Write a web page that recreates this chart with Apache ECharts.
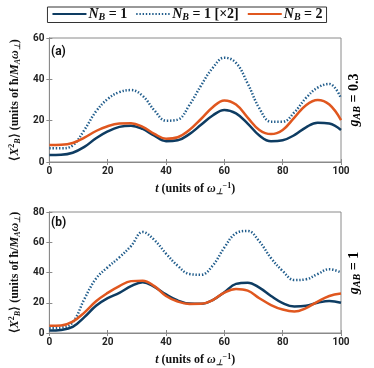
<!DOCTYPE html>
<html>
<head>
<meta charset="utf-8">
<script src="https://cdn.jsdelivr.net/npm/echarts@6/dist/echarts.min.js"></script>
<style>
  html, body { margin: 0; padding: 0; background: #fff; }
  #chart { width: 374px; height: 368px; }
</style>
</head>
<body>
<div id="chart"></div>
<script>
// time samples (units of 1/omega)
var tValues = [0, 4, 8, 12, 16, 20, 24, 28, 32, 36, 40, 44, 48, 52, 56, 60, 64, 68, 72, 76, 80, 84, 88, 92, 96, 100]

// panel (a), g_AB = 0.3
var aNB1 = [3.4, 3.5, 4.5, 7.3, 11.5, 14.8, 17, 17.6, 16, 12.7, 10.1, 10.5, 13.5, 18, 22.5, 25.2, 23.5, 18.6, 12.8, 10, 10.5, 13, 16.8, 19, 18.6, 15.5]
var aNB1x2 = [6.6, 6.6, 8, 15.5, 24.5, 30.5, 33.8, 34.8, 32, 25, 20, 20.5, 27.5, 37, 45.5, 50.5, 48, 38, 26, 19.5, 19.5, 24, 31, 36, 37.8, 30.8]
var aNB2 = [8.2, 8.3, 9.2, 11.8, 15, 17.3, 18.6, 18.8, 17, 13.6, 11.3, 12, 15.5, 20.8, 26.5, 29.8, 27.8, 21.5, 15.5, 13.5, 15.5, 21.5, 27.5, 30, 27.8, 20.3]

// panel (b), g_AB = 1
var bNB1 = [1.6, 2, 4, 10.5, 18, 23, 26.5, 31, 33.6, 30.5, 25.5, 21.5, 19.5, 19.3, 21.8, 27, 32.5, 33.3, 30, 24.5, 19.8, 17.5, 18, 20, 21.2, 20]
var bNB1x2 = [3.1, 3.5, 7, 22.5, 36, 43.5, 50, 57.5, 66.8, 61.5, 52.5, 44.5, 39, 38.5, 44.5, 56.5, 66, 67.5, 60.5, 49.5, 41, 35, 35.5, 39, 42.2, 40]
var bNB2 = [4.8, 5, 7.5, 13.5, 21, 26.5, 31, 34.3, 34.6, 31, 24.5, 20.8, 19.2, 19.3, 21.8, 26.7, 29.1, 28, 23, 18.5, 15.5, 14.2, 16.5, 20.8, 24.5, 26.1]

var aYMax = 60
var bYMax = 80

var cDark = '#0e3c62'
var cDot = '#215d8c'
var cOrange = '#e0571f'
var frame = '#8a8a8a'
var serif = 'Liberation Serif'

function pairs(ys) {
  return tValues.map(function (t, i) { return [t, ys[i]] })
}

function richSet(size) {
  var sub = Math.round(size * 0.68)
  return {
    i: { fontFamily: serif, fontStyle: 'italic', fontWeight: 'bold', fontSize: size, color: '#111' },
    n: { fontFamily: serif, fontWeight: 'bold', fontSize: size, color: '#111' },
    s: { fontFamily: serif, fontStyle: 'italic', fontWeight: 'bold', fontSize: sub, color: '#111', padding: [size / 2, 0, 0, 0] },
    p: { fontFamily: serif, fontWeight: 'bold', fontSize: sub, color: '#111', padding: [0, 0, size / 2, 0] }
  }
}
var mathRich = richSet(12)
var legendRich = richSet(14)
var sideRich = richSet(14)

var xName = '{i|t}{n| (units of }{i|ω}{s|⊥}{p|−1}{n|)}'
var yName = '{n|⟨}{i|X}{p|2}{s|B}{n|⟩ (units of ħ/}{i|M}{s|A}{i|ω}{s|⊥}{n|)}'

function mainX(gi) {
  return {
    gridIndex: gi, type: 'value', min: 0, max: 100, interval: 20,
    name: xName, nameLocation: 'middle', nameGap: 20,
    nameTextStyle: { rich: mathRich },
    axisLine: { lineStyle: { color: frame } },
    axisTick: { inside: true, length: 3, lineStyle: { color: frame } },
    axisLabel: { fontFamily: 'Roboto', fontWeight: 'bold', fontSize: 10, color: '#222', margin: 4 },
    splitLine: { show: false }
  }
}
function topX(gi) {
  return {
    gridIndex: gi, type: 'value', min: 0, max: 100, interval: 20, position: 'top',
    axisLine: { lineStyle: { color: frame } },
    axisTick: { inside: true, length: 3, lineStyle: { color: frame } },
    axisLabel: { show: false }, splitLine: { show: false }
  }
}
function mainY(gi, max) {
  return {
    gridIndex: gi, type: 'value', min: 0, max: max, interval: 20,
    name: yName, nameLocation: 'middle', nameGap: 22, nameRotate: 90,
    nameTextStyle: { rich: mathRich },
    axisLine: { show: true, lineStyle: { color: frame } },
    axisTick: { show: true, inside: true, length: 3, lineStyle: { color: frame } },
    axisLabel: { fontFamily: 'Roboto', fontWeight: 'bold', fontSize: 10, color: '#222', margin: 5 },
    splitLine: { show: false }
  }
}
function rightY(gi, max) {
  return {
    gridIndex: gi, type: 'value', min: 0, max: max, interval: 20, position: 'right',
    axisLine: { show: true, lineStyle: { color: frame } },
    axisTick: { show: true, inside: true, length: 3, lineStyle: { color: frame } },
    axisLabel: { show: false }, splitLine: { show: false }
  }
}

function line(name, xi, yi, ys, color, dotted) {
  return {
    name: name, type: 'line', xAxisIndex: xi, yAxisIndex: yi,
    data: pairs(ys), smooth: 0.4, showSymbol: false, symbol: 'none',
    lineStyle: { color: color, width: 2.5, type: dotted ? [1.4, 1.8] : 'solid' },
    itemStyle: { color: color },
    z: dotted ? 2 : 3
  }
}

var chart = echarts.init(document.getElementById('chart'))
chart.setOption({
  animation: false,
  legend: {
    top: 7, left: 'center',
    itemWidth: 34, itemHeight: 10, itemGap: 8,
    padding: [0, 4], borderColor: '#333', borderWidth: 1,
    backgroundColor: '#fff',
    itemStyle: { color: 'transparent', borderColor: 'transparent', borderWidth: 0 },
    data: ['NB1', 'NB1x2', 'NB2'],
    formatter: function (n) {
      if (n === 'NB1') return '{i|N}{s|B}{n| = 1}'
      if (n === 'NB1x2') return '{i|N}{s|B}{n| = 1 [×2]}'
      return '{i|N}{s|B}{n| = 2}'
    },
    textStyle: { rich: legendRich, padding: [0, 0, 0, -3] }
  },
  grid: [
    { left: 45, top: 38, width: 296, height: 124, show: true, borderColor: frame, borderWidth: 1 },
    { left: 45, top: 212, width: 296, height: 122, show: true, borderColor: frame, borderWidth: 1 }
  ],
  xAxis: [mainX(0), topX(0), mainX(1), topX(1)],
  yAxis: [mainY(0, aYMax), rightY(0, aYMax), mainY(1, bYMax), rightY(1, bYMax)],
  series: [
    line('NB1', 0, 0, aNB1, cDark, false),
    line('NB1x2', 0, 0, aNB1x2, cDot, true),
    line('NB2', 0, 0, aNB2, cOrange, false),
    line('NB1', 2, 2, bNB1, cDark, false),
    line('NB1x2', 2, 2, bNB1x2, cDot, true),
    line('NB2', 2, 2, bNB2, cOrange, false)
  ],
  graphic: [
    { type: 'text', left: 51, top: 46, style: { text: '(a)', font: 'bold 12px Roboto', fill: '#111' } },
    { type: 'text', left: 51, top: 217, style: { text: '(b)', font: 'bold 12px Roboto', fill: '#111' } },
    { type: 'text', x: 354, y: 100, rotation: Math.PI / 2,
      style: { text: '{i|g}{s|AB}{n| = 0.3}', rich: sideRich, align: 'center', verticalAlign: 'middle' } },
    { type: 'text', x: 354, y: 273, rotation: Math.PI / 2,
      style: { text: '{i|g}{s|AB}{n| = 1}', rich: sideRich, align: 'center', verticalAlign: 'middle' } }
  ]
})
</script>
</body>
</html>
